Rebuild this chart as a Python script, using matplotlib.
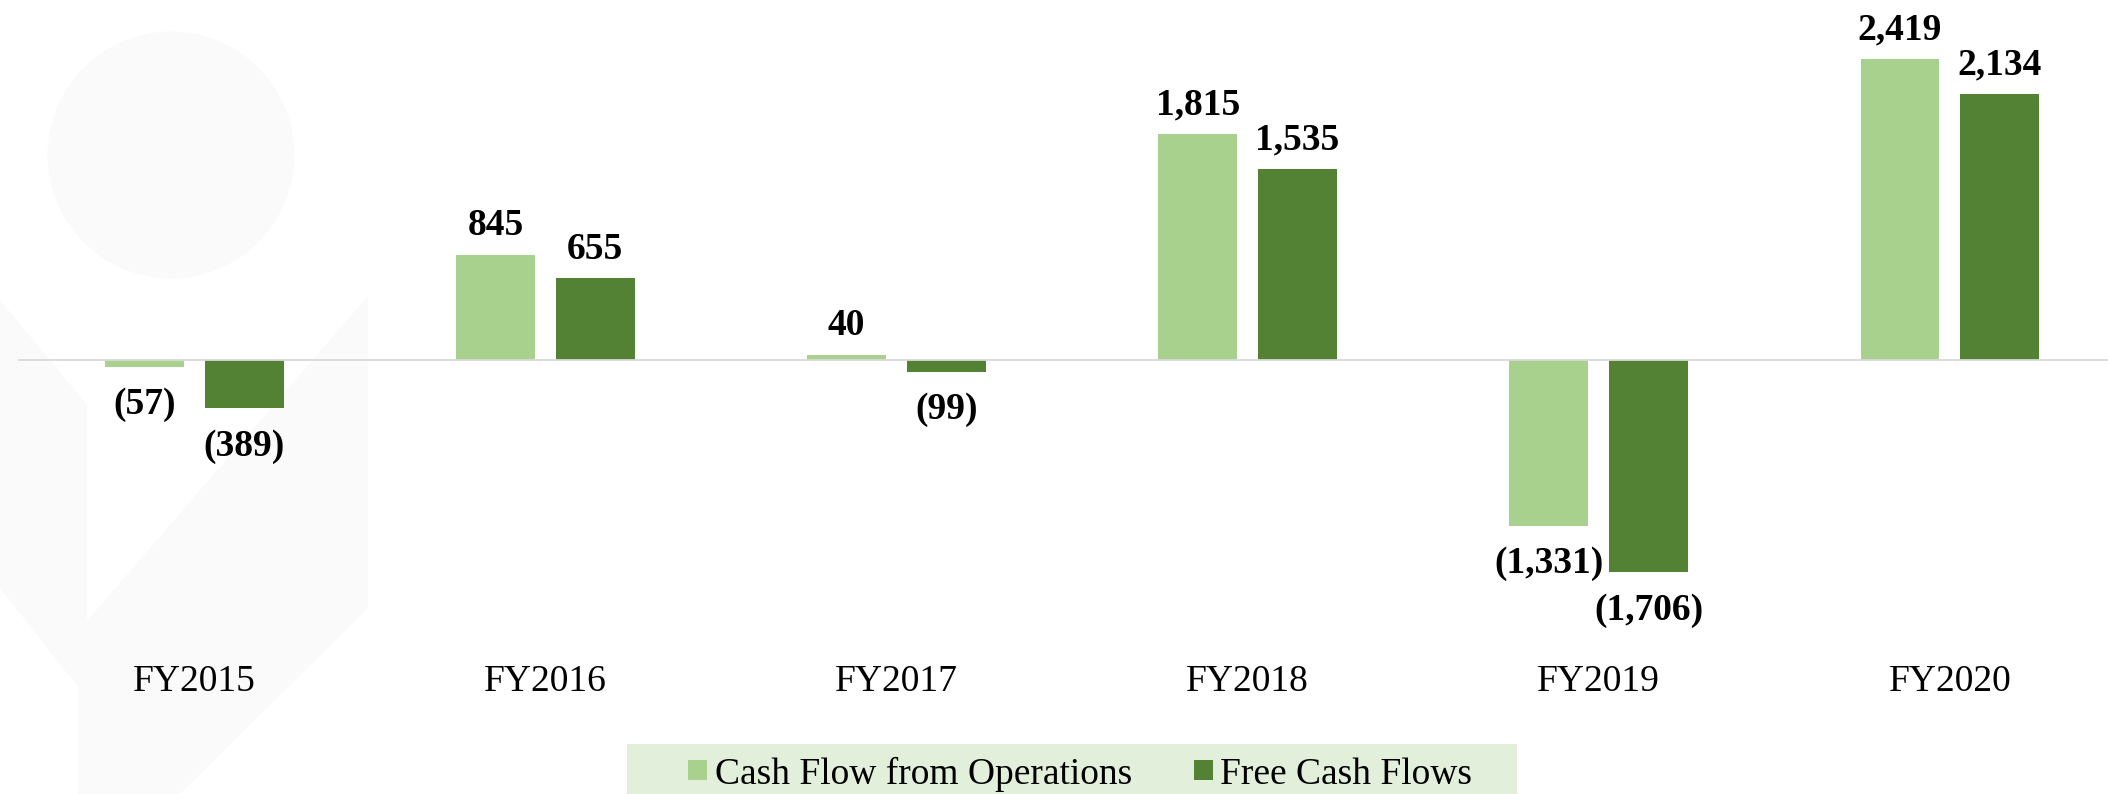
import numpy as np
import matplotlib
matplotlib.use('Agg')
import matplotlib.pyplot as plt
from matplotlib.patches import Ellipse, Polygon, Rectangle

years = ['FY2015', 'FY2016', 'FY2017', 'FY2018', 'FY2019', 'FY2020']
cfo = [-57, 845, 40, 1815, -1331, 2419]
fcf = [-389, 655, -99, 1535, -1706, 2134]
series_names = ['Cash Flow from Operations', 'Free Cash Flows']
colors = ['#a9d18e', '#548235']

plt.rcParams['font.family'] = ['Liberation Serif', 'DejaVu Serif']

W, H = 2108, 794
fig = plt.figure(figsize=(W / 100, H / 100), dpi=100)

# faint logo watermark behind the chart (figure pixel coords, y from top)
def fy(y):
    return 1 - y / H

wm = '#fafafa'
fig.patches.append(Ellipse((171 / W, fy(155)), 247 / W, 247 / H, transform=fig.transFigure,
                           facecolor=wm, edgecolor='none', zorder=-5))
shape = [(0, 300), (87, 405), (87, 621), (368, 296), (368, 608), (180, 794),
         (78, 794), (78, 687), (0, 588)]
fig.patches.append(Polygon([(x / W, fy(y)) for x, y in shape], closed=True,
                           transform=fig.transFigure, facecolor=wm, edgecolor='none', zorder=-5))

# legend background strip
fig.patches.append(Rectangle((627 / W, 0), (1517 - 627) / W, 50 / H, transform=fig.transFigure,
                             facecolor='#e2efda', edgecolor='none', zorder=-5))

ax = fig.add_axes([0, 0, 1, 1])
ax.patch.set_alpha(0)

x = np.arange(len(years))
width = 0.224
off = 0.1423
b1 = ax.bar(x - off, cfo, width, color=colors[0], label=series_names[0], zorder=2)
b2 = ax.bar(x + off, fcf, width, color=colors[1], label=series_names[1], zorder=2)

ax.plot([-0.5, 5.6], [0, 0], color='#d9d9d9', lw=1.3, zorder=3)

def fmt(v):
    return f'{v:,}' if v >= 0 else f'({-v:,})'

for bars, vals in ((b1, cfo), (b2, fcf)):
    for rect, v in zip(bars, vals):
        cx = rect.get_x() + rect.get_width() / 2
        if v >= 0:
            ax.annotate(fmt(v), (cx, v), xytext=(0, 8.5), textcoords='offset points',
                        ha='center', va='bottom', fontsize=27, fontweight='bold')
        else:
            ax.annotate(fmt(v), (cx, v), xytext=(0, -14.5), textcoords='offset points',
                        ha='center', va='top', fontsize=27, fontweight='bold')

for i, yr in enumerate(years):
    ax.text(i, -2659, yr, ha='center', va='baseline', fontsize=27)

ax.set_xlim(-0.5534, 5.4505)
ax.set_ylim(-3486, 2891.6)
ax.axis('off')

leg = fig.legend(handles=[b1, b2], loc='center left', bbox_to_anchor=(688 / W, 20 / H),
                 ncol=2, frameon=False, fontsize=27, borderpad=0, borderaxespad=0,
                 handlelength=0.51, handleheight=0.42, handletextpad=0.2, columnspacing=1.65)

fig.savefig('out.png', dpi=100)
